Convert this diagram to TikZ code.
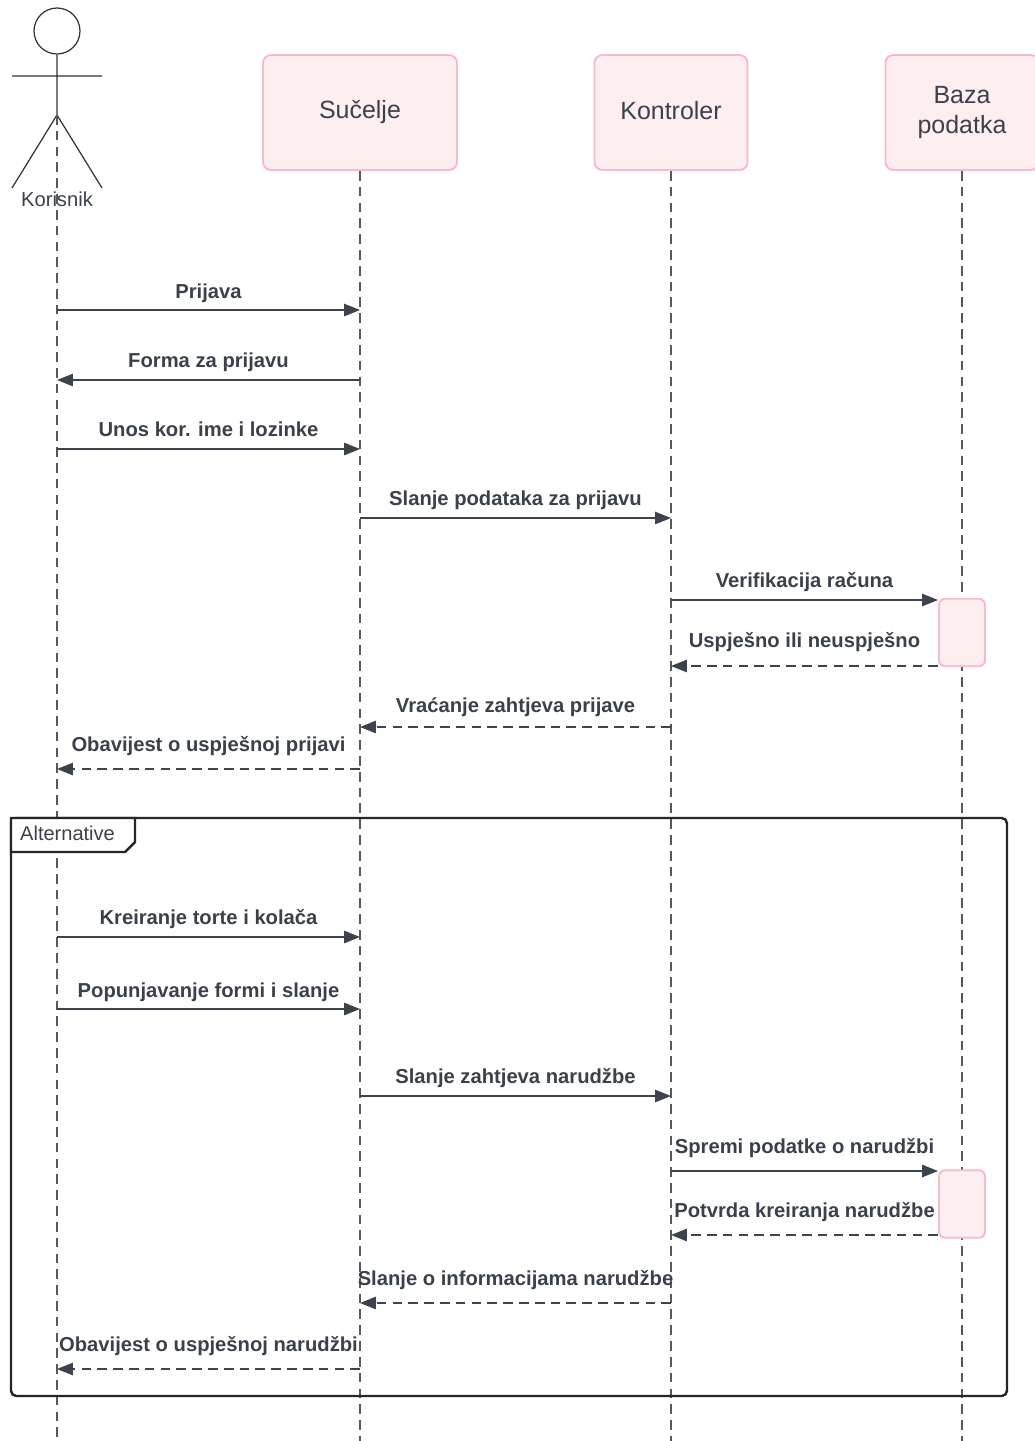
\documentclass[tikz,border=0pt]{standalone}
\usepackage{fontspec}
\setmainfont{Liberation Sans}
\usepackage{tikz}
\usetikzlibrary{arrows.meta,positioning,calc}
\definecolor{boxfill}{HTML}{FDEEF0}
\definecolor{boxline}{HTML}{F9B8CF}
\definecolor{ink}{HTML}{3A414A}
\definecolor{wire}{HTML}{3D434C}
\tikzset{part/.style={draw=boxline,fill=boxfill,line width=1.1pt,rounded corners=4.5pt,minimum height=2.3cm,
                      text=ink,font=\fontsize{14.2}{17}\selectfont,align=center},
         act/.style={draw=boxline,fill=boxfill,line width=1.1pt,rounded corners=3.5pt,minimum width=0.92cm,
                     minimum height=1.35cm,inner sep=0pt},
         life/.style={draw=black!65,line width=0.6pt,dash pattern=on 5.5pt off 3.5pt},
         msg/.style={draw=wire,line width=0.75pt,-{Triangle[length=9pt,width=7pt]}},
         reply/.style={msg,dash pattern=on 5.5pt off 3.5pt},
         lbl/.style={anchor=base,yshift=#1,inner sep=0pt,text=ink,font=\fontsize{11.5}{13}\selectfont\bfseries},
         lbl/.default=7.4pt,
         frame/.style={draw=black!85,line width=1.4pt}}

\begin{document}
\begin{tikzpicture}[x=0.02cm,y=-0.02cm]
            \useasboundingbox (0,0) rectangle (1035,1441);
            % actor
            \node[draw=black!80,line width=0.7pt,circle,minimum size=0.92cm,inner sep=0pt] (head) at (57,31) {};
            \coordinate (kor) at (57,115);
            \draw[black!80,line width=0.7pt] (head.south) -- (kor) (12,76) -- (102,76) (12,188) -- (kor) -- (102,188);
            \node[text=ink,font=\fontsize{11.5}{13}\selectfont] (korlbl) at (57,199) {Korisnik};
            % participants
            \node[part,minimum width=3.88cm] (suc) at (360,112.5) {Sučelje};
            \node[part,minimum width=3.06cm,text depth=0.22em] (kon) at (671,112.5) {Kontroler};
            \node[part,minimum width=3.06cm] (baz) at (962,112.5) {Baza\\podatka};
            % lifelines
            \draw[life] (kor) -- (kor |- 0,1441);
            \draw[life] (suc.south) -- (suc |- 0,1441);
            \draw[life] (kon.south) -- (kon |- 0,1441);
            \draw[life] (baz.south) -- (baz |- 0,1441);
            \node[act] (act1) at (962,632.5) {};
            \node[act] (act2) at (962,1204) {};
            % login
            \draw[msg] (kor |- 0,310) -- node[lbl=6.8pt]{Prijava} (suc |- 0,310);
            \draw[msg] (suc |- 0,380) -- node[lbl]{Forma za prijavu} (kor |- 0,380);
            \draw[msg] (kor |- 0,449) -- node[lbl]{Unos kor. ime i lozinke} (suc |- 0,449);
            \draw[msg] (suc |- 0,518) -- node[lbl]{Slanje podataka za prijavu} (kon |- 0,518);
            \draw[msg] (kon |- 0,600) -- node[lbl]{Verifikacija računa} (act1.west |- 0,600);
            \draw[reply] (act1.west |- 0,666) -- node[lbl=10.5pt]{Uspješno ili neuspješno} (kon |- 0,666);
            \draw[reply] (kon |- 0,727) -- node[lbl=8pt]{Vraćanje zahtjeva prijave} (suc |- 0,727);
            \draw[reply] (suc |- 0,769) -- node[lbl=10.2pt]{Obavijest o uspješnoj prijavi} (kor |- 0,769);
            % alternative frame
            \draw[frame,rounded corners=3pt] (11,818) rectangle (1007,1396);
            \filldraw[frame,fill=white] (11,852) -- (125,852) -- (135,842) -- (135,818) -- (11,818) -- cycle;
            \node[anchor=west,text=ink,font=\fontsize{11.4}{13}\selectfont] (alt) at (14,833) {Alternative};
            % order
            \draw[msg] (kor |- 0,937) -- node[lbl]{Kreiranje torte i kolača} (suc |- 0,937);
            \draw[msg] (kor |- 0,1009) -- node[lbl=6.8pt]{Popunjavanje formi i slanje} (suc |- 0,1009);
            \draw[msg] (suc |- 0,1096) -- node[lbl]{Slanje zahtjeva narudžbe} (kon |- 0,1096);
            \draw[msg] (kon |- 0,1171) -- node[lbl=9.7pt]{Spremi podatke o narudžbi} (act2.west |- 0,1171);
            \draw[reply] (act2.west |- 0,1235) -- node[lbl=9.7pt]{Potvrda kreiranja narudžbe} (kon |- 0,1235);
            \draw[reply] (kon |- 0,1303) -- node[lbl=9.7pt]{Slanje o informacijama narudžbe} (suc |- 0,1303);
            \draw[reply] (suc |- 0,1369) -- node[lbl=10.2pt]{Obavijest o uspješnoj narudžbi} (kor |- 0,1369);
\end{tikzpicture}
\end{document}
